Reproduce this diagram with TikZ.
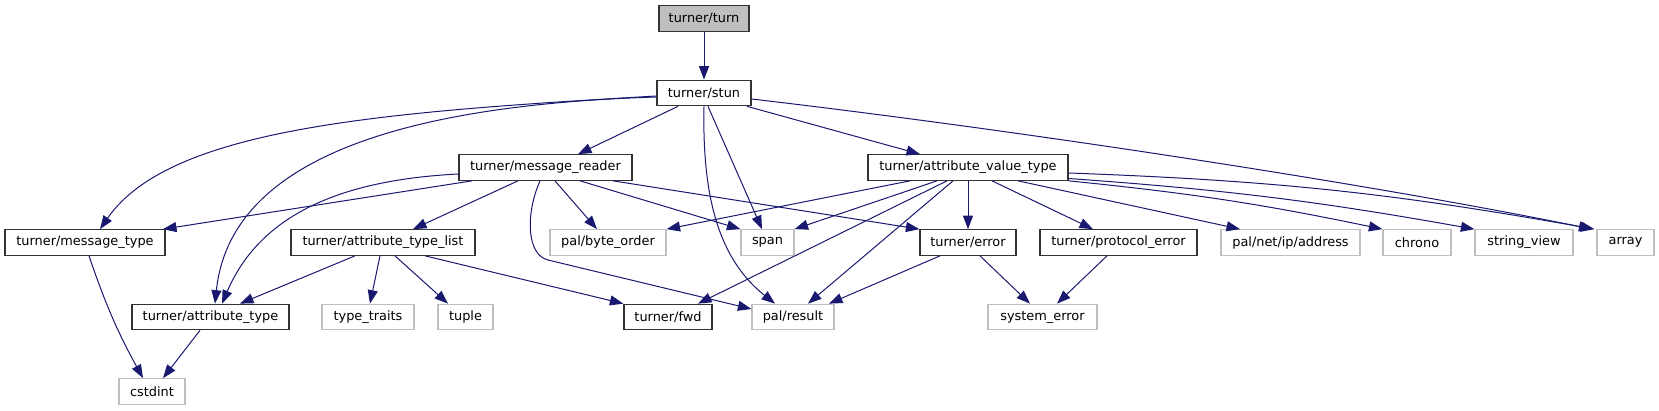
\documentclass[tikz,border=0pt]{standalone}
\usepackage{fontspec}
\newfontfamily\dotfont{DejaVu Sans}
\usetikzlibrary{arrows.meta}
\definecolor{edgeblue}{HTML}{191970}
\definecolor{sysgray}{HTML}{BFBFBF}
\definecolor{rootgray}{HTML}{BFBFBF}

\begin{document}
\begin{tikzpicture}[x=1pt, y=-1pt,
  file/.style={rectangle, draw=black!80, line width=1.2pt, inner sep=0pt,
    minimum height=25.5pt, font=\dotfont\fontsize{12.9}{15}\selectfont},
  sysfile/.style={file, draw=sysgray},
  rootfile/.style={file, fill=rootgray},
  inc/.style={draw=edgeblue, line width=1pt, -{Triangle[length=13.5pt,width=10pt]}}]
  \useasboundingbox (0,0) rectangle (1659,411);

  % Headers
  \node (turn) at (704,18.5) [rootfile, minimum width=90pt] {turner/turn};
  \node (stun) at (704,93) [file, minimum width=94pt] {turner/stun};
  \node (mr) at (545.5,167.5) [file, minimum width=173pt] {turner/message\_reader};
  \node (avt) at (968,167.5) [file, minimum width=200pt] {turner/attribute\_value\_type};
  \node (mt) at (85,242.5) [file, minimum width=160pt] {turner/message\_type};
  \node (atl) at (383,242.5) [file, minimum width=184pt] {turner/attribute\_type\_list};
  \node (err) at (968,242.5) [file, minimum width=96pt] {turner/error};
  \node (perr) at (1118.5,242.5) [file, minimum width=157pt] {turner/protocol\_error};
  \node (at) at (210.5,317) [file, minimum width=157pt] {turner/attribute\_type};
  \node (fwd) at (668,317) [file, minimum width=88pt] {turner/fwd};

  % System and pal headers
  \node (bo) at (608,242.5) [sysfile, minimum width=116pt] {pal/byte\_order};
  \node (span) at (767.5,242.5) [sysfile, minimum width=53pt] {span};
  \node (addr) at (1290.5,242.5) [sysfile, minimum width=139pt] {pal/net/ip/address};
  \node (chrono) at (1417,242.5) [sysfile, minimum width=68pt] {chrono};
  \node (sv) at (1524,242.5) [sysfile, minimum width=98pt] {string\_view};
  \node (array) at (1625.5,242.5) [sysfile, minimum width=57pt] {array};
  \node (tt) at (368,317) [sysfile, minimum width=92pt] {type\_traits};
  \node (tuple) at (465.5,317) [sysfile, minimum width=55pt] {tuple};
  \node (res) at (793,317) [sysfile, minimum width=82pt] {pal/result};
  \node (syserr) at (1042.5,317) [sysfile, minimum width=109pt] {system\_error};
  \node (cstdint) at (152,391.5) [sysfile, minimum width=66pt] {cstdint};

  % turner/turn and turner/stun
  \draw[inc] (turn) -- (stun);
  \draw[inc] ([xshift=-26pt]stun.south) -- ([xshift=32.5pt]mr.north);
  \draw[inc] ([yshift=-3pt]stun.west) .. controls (380,112) and (170,128) .. ([xshift=15pt]mt.north);
  \draw[inc] ([yshift=-4pt]stun.west) .. controls (400,105) and (230,160) .. ([xshift=4.5pt]at.north);
  \draw[inc] ([xshift=4pt]stun.south) -- ([xshift=-5.5pt]span.north);
  \draw[inc] (stun.south) .. controls (702,200) and (720,260) .. ([xshift=-18pt]res.north);
  \draw[inc] ([xshift=43pt]stun.south) -- ([xshift=-48pt]avt.north);
  \draw[inc] ([yshift=-6pt]stun.east) .. controls (1000,128) and (1350,180) .. ([xshift=-4pt]array.north west);

  % turner/message_reader
  \draw[inc] ([xshift=-73.5pt]mr.south) -- ([xshift=78pt]mt.north);
  \draw[inc] ([yshift=-6.5pt]mr.west) .. controls (340,180) and (260,215) .. ([xshift=11.5pt]at.north);
  \draw[inc] ([xshift=-27.5pt]mr.south) -- ([xshift=30pt]atl.north);
  \draw[inc] ([xshift=-5.5pt]mr.south) .. controls (525,215) and (527,255) .. (548,260) -- ([yshift=8pt]res.west);
  \draw[inc] ([xshift=9.5pt]mr.south) -- ([xshift=-11pt]bo.north);
  \draw[inc] ([xshift=34.5pt]mr.south) -- (span.north west);
  \draw[inc] ([xshift=67.5pt]mr.south) -- (err.north west);

  % turner/attribute_value_type
  \draw[inc] ([xshift=-58pt]avt.south) -- (bo.north east);
  \draw[inc] ([xshift=-31pt]avt.south) -- (span.north east);
  \draw[inc] ([xshift=-21pt]avt.south) -- ([xshift=30pt]fwd.north);
  \draw[inc] ([xshift=-15pt]avt.south) -- ([xshift=15pt]res.north);
  \draw[inc] (avt) -- (err);
  \draw[inc] ([xshift=24pt]avt.south) -- ([xshift=-25.5pt]perr.north);
  \draw[inc] ([xshift=50pt]avt.south) -- ([xshift=-50.5pt]addr.north);
  \draw[inc] (avt.south east) to[bend left=3] (chrono.north west);
  \draw[inc] ([yshift=-11pt]avt.east) to[bend left=3] (sv.north west);
  \draw[inc] ([yshift=-5.5pt]avt.east) to[bend left=4] ([xshift=-2pt]array.north west);

  % turner/attribute_type_list
  \draw[inc] ([xshift=-28pt]atl.south) -- ([xshift=29.5pt]at.north);
  \draw[inc] ([xshift=-3pt]atl.south) -- ([xshift=2pt]tt.north);
  \draw[inc] ([xshift=12pt]atl.south) -- ([xshift=-17.5pt]tuple.north);
  \draw[inc] ([xshift=42pt]atl.south) -- (fwd.north west);

  % errors
  \draw[inc] ([xshift=-28pt]err.south) -- ([xshift=36pt]res.north);
  \draw[inc] ([xshift=12pt]err.south) -- ([xshift=-12.5pt]syserr.north);
  \draw[inc] ([xshift=-11.5pt]perr.south) -- ([xshift=14.5pt]syserr.north);

  % cstdint
  \draw[inc] ([xshift=4pt]mt.south) to[bend right=5] ([xshift=-9pt]cstdint.north);
  \draw[inc] ([xshift=-10.5pt]at.south) -- ([xshift=11pt]cstdint.north);
\end{tikzpicture}
\end{document}
